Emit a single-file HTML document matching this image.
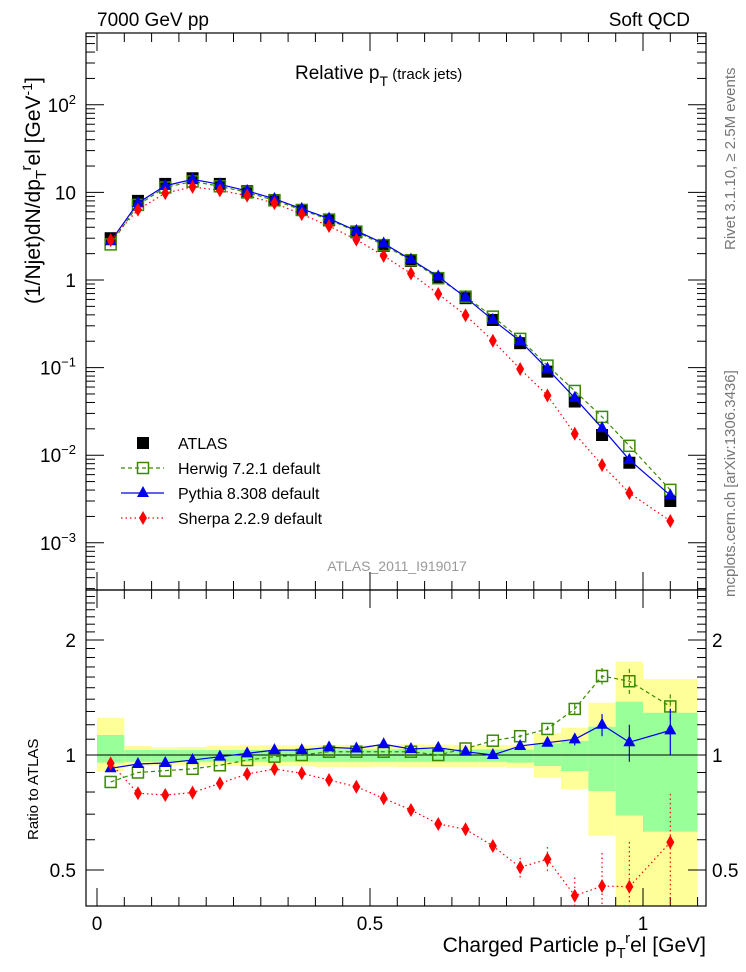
<!DOCTYPE html>
<html><head><meta charset="utf-8"><style>
body{margin:0;background:#fff;}
svg{display:block;font-family:"Liberation Sans",sans-serif;}
</style></head><body>
<svg id="c" width="746" height="972" xmlns="http://www.w3.org/2000/svg"></svg>
<script>
const xCenters=[0.025,0.075,0.125,0.175,0.225,0.275,0.325,0.375,0.425,0.475,0.525,0.575,0.625,0.675,0.725,0.775,0.825,0.875,0.925,0.975,1.05];
const binEdges=[0,0.05,0.1,0.15,0.2,0.25,0.3,0.35,0.4,0.45,0.5,0.55,0.6,0.65,0.7,0.75,0.8,0.85,0.9,0.95,1.0,1.1];
const atlas=[3.0,8.0,12.5,14.5,12.5,10.3,8.2,6.3,4.8,3.5,2.45,1.65,1.05,0.62,0.35,0.19,0.09,0.041,0.017,0.0082,0.0030];
const herwigRatio=[0.85,0.90,0.91,0.92,0.94,0.97,0.99,1.0,1.02,1.02,1.02,1.02,1.0,1.04,1.09,1.12,1.17,1.32,1.61,1.56,1.34];
const pythiaRatio=[0.923,0.947,0.953,0.970,0.99,1.01,1.03,1.03,1.047,1.04,1.067,1.037,1.045,1.02,1.0,1.056,1.077,1.099,1.20,1.08,1.16];
const sherpaRatio=[0.951,0.794,0.786,0.797,0.843,0.892,0.919,0.896,0.860,0.826,0.770,0.718,0.660,0.639,0.578,0.508,0.534,0.428,0.454,0.452,0.591];
const pythiaErr=[0,0,0,0,0,0,0,0,0,0,0,0,0,0,0,0.01,0.02,0.04,0.08,0.12,0.16];
const sherpaErr=[0,0,0,0,0,0,0,0,0,0,0,0,0,0,0.02,0.03,0.04,0.05,0.10,0.14,0.20];
const herwigErr=[0,0,0,0,0,0,0,0,0,0,0,0,0,0,0,0.01,0.02,0.04,0.08,0.12,0.10];
const yellowUp=[1.252,1.056,1.048,1.05,1.057,1.058,1.06,1.06,1.063,1.063,1.062,1.066,1.065,1.062,1.062,1.06,1.14,1.179,1.37,1.755,1.58];
const yellowLo=[0.908,0.936,0.94,0.94,0.937,0.936,0.935,0.935,0.93,0.93,0.932,0.93,0.93,0.93,0.93,0.925,0.872,0.815,0.615,0.3,0.3];
const greenUp=[1.128,1.031,1.03,1.03,1.03,1.031,1.032,1.032,1.034,1.034,1.034,1.036,1.036,1.034,1.034,1.034,1.073,1.088,1.186,1.379,1.29];
const greenLo=[0.955,0.96,0.96,0.96,0.96,0.96,0.96,0.96,0.96,0.96,0.96,0.96,0.96,0.96,0.96,0.955,0.936,0.908,0.805,0.694,0.63];
const mainTicks=[{v:100,t:'10',e:'2'},{v:10,t:'10',e:''},{v:1,t:'1',e:''},{v:0.1,t:'10',e:'−1'},{v:0.01,t:'10',e:'−2'},{v:0.001,t:'10',e:'−3'}];
const ratioTicks=[0.5,1,2];
const xTicks=[0,0.5,1];

const S=document.getElementById('c');const NS='http://www.w3.org/2000/svg';
function el(tag,attrs,parent){const e=document.createElementNS(NS,tag);for(const k in attrs)e.setAttribute(k,attrs[k]);(parent||S).appendChild(e);return e;}
const L=86,R=706,T=33,MB=590,RB=906;
const X=v=>97+v*546;
const Y=v=>280-87.6*Math.log10(v);
const RY=v=>755-115*Math.log2(v);
const clipR=el('clipPath',{id:'cr'});el('rect',{x:L,y:MB,width:R-L,height:RB-MB},clipR);
const clipM=el('clipPath',{id:'cm'});el('rect',{x:L,y:T,width:R-L,height:MB-T},clipM);

const bands=el('g',{'clip-path':'url(#cr)'});

for(let i=0;i<xCenters.length;i++){
 const x0=X(binEdges[i]),x1=X(binEdges[i+1]);
 let r=el('rect',{x:x0,y:RY(yellowUp[i]),width:x1-x0,height:RY(yellowLo[i])-RY(yellowUp[i]),fill:'#ffff99'},bands);
 
 r=el('rect',{x:x0,y:RY(greenUp[i]),width:x1-x0,height:RY(greenLo[i])-RY(greenUp[i]),fill:'#99ff99'},bands);
 
}
el('line',{x1:L,x2:R,y1:RY(1),y2:RY(1),stroke:'#000','stroke-width':1});

for(const [y0,y1] of [[T,MB],[MB,RB]]){const f=el('rect',{x:L,y:y0,width:R-L,height:y1-y0,fill:'none',stroke:'#000','stroke-width':1.2});}

for(let d=-4;d<=3;d++){for(let m=1;m<10;m++){const v=m*Math.pow(10,d);const y=Y(v);if(y<T||y>MB)continue;const len=m===1?18:9;
 el('line',{x1:L,x2:L+len,y1:y,y2:y,stroke:'#000'});el('line',{x1:R,x2:R-len,y1:y,y2:y,stroke:'#000'});}}
mainTicks.forEach(t=>{const g=el('text',{x:76,y:Y(t.v)+7,'text-anchor':'end','font-size':19});
 if(t.e){g.textContent=t.t;const s=el('tspan',{dy:-8,'font-size':13},g);s.textContent=t.e;}else g.textContent=t.t;});
for(let v=0.4;v<=2.7;v+=0.1){const y=RY(v);if(y<MB||y>RB)continue;const major=Math.abs(v-0.5)<1e-6||Math.abs(v-1)<1e-6||Math.abs(v-2)<1e-6;const len=major?18:9;
 el('line',{x1:L,x2:L+len,y1:y,y2:y,stroke:'#000'});el('line',{x1:R,x2:R-len,y1:y,y2:y,stroke:'#000'});}
ratioTicks.forEach(v=>{for(const [x,a] of [[76,'end'],[712,'start']]){const t=el('text',{x:x,y:RY(v)+7,'text-anchor':a,'font-size':19});t.textContent=String(v);}});
for(let i=0;i<=22;i++){const v=i*0.05;const x=X(v);if(x>R)continue;const major=i%10===0;const len=major?18:9;
 for(const [yb,dir] of [[MB,-1],[T,1],[RB,-1],[MB,1]]) el('line',{x1:x,x2:x,y1:yb,y2:yb+dir*len,stroke:'#000'});}
xTicks.forEach(v=>{const t=el('text',{x:X(v),y:930,'text-anchor':'middle','font-size':19});t.textContent=String(v);});

function marker(type,x,y,col,g){
 if(type==='sq')return el('rect',{x:x-6,y:y-6,width:12,height:12,fill:col},g);
 if(type==='osq')return el('rect',{x:x-5.5,y:y-5.5,width:11,height:11,fill:'none',stroke:col,'stroke-width':1.5},g);
 if(type==='tri')return el('polygon',{points:`${x},${y-7} ${x-6},${y+4} ${x+6},${y+4}`,fill:col},g);
 return el('polygon',{points:`${x},${y-7} ${x-4},${y} ${x},${y+7} ${x+4},${y}`,fill:col},g);
}
function series(name,vals,yf,col,type,dash,clip,err){
 const g=el('g',{'clip-path':clip});
 if(dash!==null){const pts=vals.map((v,i)=>X(xCenters[i])+','+yf(v)).join(' ');
  el('polyline',{points:pts,fill:'none',stroke:col,'stroke-width':1.2,'stroke-dasharray':dash},g);}
 if(err)vals.forEach((v,i)=>{if(err[i]>0){const x=X(xCenters[i]);el('line',{x1:x,x2:x,y1:yf(v+err[i]),y2:yf(Math.max(v-err[i],0.05)),stroke:col,'stroke-width':1.2,'stroke-dasharray':dash||''},g);}});
 vals.forEach((v,i)=>{const m=marker(type,X(xCenters[i]),yf(v),col,g);});
}
const hMain=atlas.map((a,i)=>a*herwigRatio[i]),pMain=atlas.map((a,i)=>a*pythiaRatio[i]),sMain=atlas.map((a,i)=>a*sherpaRatio[i]);
series('atlas-data',atlas,Y,'#000','sq',null,'url(#cm)');
series('herwig-main',hMain,Y,'#3a8a00','osq','4,3','url(#cm)');
series('pythia-main',pMain,Y,'#0000ee','tri','','url(#cm)');
series('sherpa-main',sMain,Y,'#ff0000','dia','1.5,3','url(#cm)');
series('herwig-ratio',herwigRatio,RY,'#3a8a00','osq','4,3','url(#cr)',herwigErr);
series('pythia-ratio',pythiaRatio,RY,'#0000ee','tri','','url(#cr)',pythiaErr);
series('sherpa-ratio',sherpaRatio,RY,'#ff0000','dia','1.5,3','url(#cr)',sherpaErr);

const leg=[['ATLAS','#000','sq',null],['Herwig 7.2.1 default','#3a8a00','osq','4,3'],['Pythia 8.308 default','#0000ee','tri',''],['Sherpa 2.2.9 default','#ff0000','dia','1.5,3']];
leg.forEach((l,i)=>{const y=443+i*25;const g=el('g',{});
 if(l[3]!==null)el('line',{x1:121,x2:164,y1:y,y2:y,stroke:l[1],'stroke-width':1.2,'stroke-dasharray':l[3]},g);
 marker(l[2],143,y,l[1],g);const t=el('text',{x:178,y:y+6,'font-size':16},g);t.textContent=l[0];});

function txt(name,x,y,s,attrs,html){const t=el('text',Object.assign({x:x,y:y},attrs));if(html)t.innerHTML=s;else t.textContent=s;return t;}
txt('header-left',97,26,'7000 GeV pp',{'font-size':19});
txt('header-right',690,26,'Soft QCD',{'font-size':19,'text-anchor':'end'});
txt('plot-title',295,79,'Relative p<tspan dy="7" font-size="14">T</tspan><tspan dy="-7" font-size="15"> (track jets)</tspan>',{'font-size':19},true);
txt('analysis-watermark',397,571,'ATLAS_2011_I919017',{'font-size':14,fill:'#999','text-anchor':'middle'});
txt('y-axis-title',0,0,'(1/Njet)dN/dp<tspan dy="6" font-size="15">T</tspan><tspan dy="-15" font-size="15">r</tspan><tspan dy="9">el [GeV</tspan><tspan dy="-8" font-size="14">-1</tspan><tspan dy="8">]</tspan>',{'font-size':21,transform:'translate(40,304) rotate(-90)'},true);
txt('ratio-y-title',0,0,'Ratio to ATLAS',{'font-size':15,transform:'translate(38,840) rotate(-90)'});
txt('x-axis-title',706,952,'Charged Particle p<tspan dy="6" font-size="15">T</tspan><tspan dy="-15" font-size="15">r</tspan><tspan dy="9">el [GeV]</tspan>',{'font-size':21,'text-anchor':'end'},true);
txt('rivet-label',0,0,'Rivet 3.1.10, ≥ 2.5M events',{'font-size':15,fill:'#777',transform:'translate(735,250) rotate(-90)'});
txt('mcplots-label',0,0,'mcplots.cern.ch [arXiv:1306.3436]',{'font-size':15,fill:'#777',transform:'translate(735,597) rotate(-90)'});
</script>
</body></html>
